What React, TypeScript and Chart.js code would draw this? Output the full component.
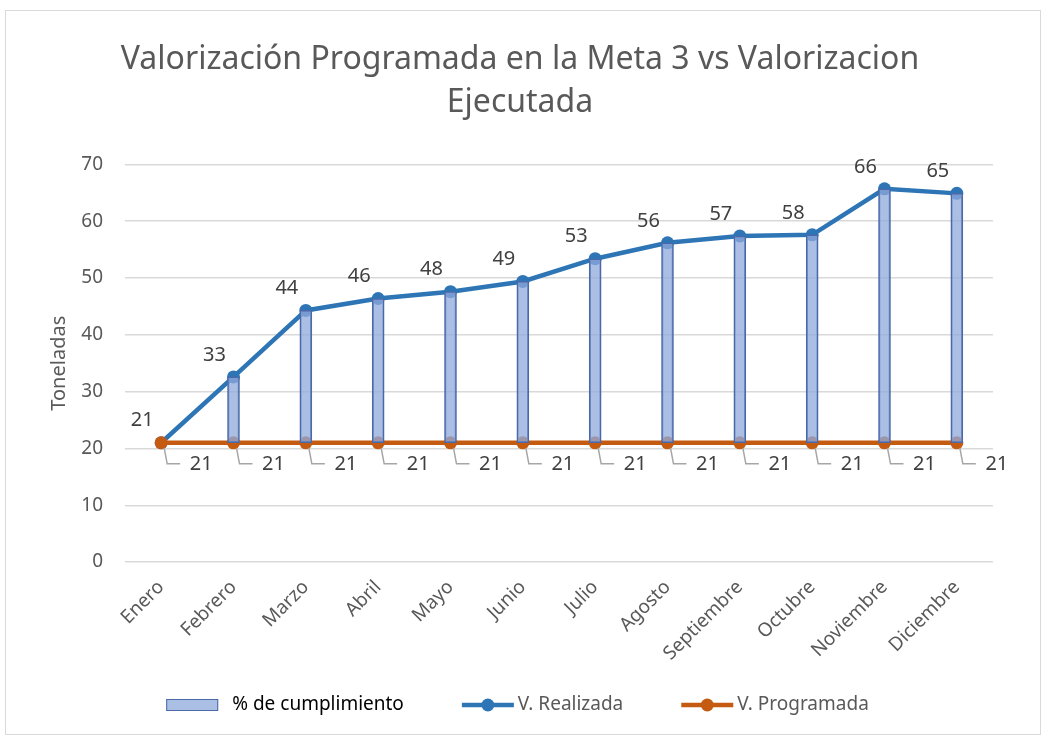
import React, { useEffect, useRef } from "react";
import { Chart, registerables } from "chart.js";

Chart.register(...registerables);

const months = ["Enero","Febrero","Marzo","Abril","Mayo","Junio","Julio","Agosto","Septiembre","Octubre","Noviembre","Diciembre"];
const realizada = [21, 32.6, 44.3, 46.4, 47.6, 49.4, 53.4, 56.2, 57.4, 57.6, 65.7, 64.9];
const programada = [21, 21, 21, 21, 21, 21, 21, 21, 21, 21, 21, 21];
const titleLines = ["Valorización Programada en la Meta 3 vs Valorizacion", "Ejecutada"];
const legendLabels = ["% de cumplimiento", "V. Realizada", "V. Programada"];

const FONT = "'Noto Sans', sans-serif";
const GRAY = "#595959";
const BLUE = "#2E75B6";
const ORANGE = "#C55A11";
const BAR_FILL = "rgba(143,170,220,0.75)";
const BAR_BORDER = "#4A69A8";

const frame = {
  id: "frame",
  beforeDraw(chart: any) {
    const ctx = chart.ctx;
    ctx.save();
    ctx.fillStyle = "#fff";
    ctx.fillRect(0, 0, chart.width, chart.height);
    ctx.strokeStyle = "#D9D9D9";
    ctx.lineWidth = 1;
    ctx.strokeRect(5.5, 10.5, chart.width - 8, chart.height - 13);
    ctx.restore();
  },
};

const labelsPlugin = {
  id: "valueLabels",
  afterDatasetsDraw(chart: any) {
    const ctx = chart.ctx;
    ctx.save();
    ctx.font = `20px ${FONT}`;
    ctx.fillStyle = "#404040";
    ctx.textAlign = "center";
    ctx.textBaseline = "middle";
    const m1 = chart.getDatasetMeta(1);
    m1.data.forEach((pt: any, i: number) => {
      ctx.fillText(String(Math.round(realizada[i])), pt.x - 19, pt.y - 22);
    });
    const m2 = chart.getDatasetMeta(2);
    m2.data.forEach((pt: any, i: number) => {
      ctx.strokeStyle = "#A6A6A6";
      ctx.lineWidth = 1.5;
      ctx.beginPath();
      ctx.moveTo(pt.x + 3, pt.y + 5);
      ctx.lineTo(pt.x + 6, pt.y + 21);
      ctx.lineTo(pt.x + 19, pt.y + 21);
      ctx.stroke();
      ctx.fillText(String(Math.round(programada[i])), pt.x + 40, pt.y + 22);
    });
    ctx.restore();
  },
};

const legendPlugin = {
  id: "customLegend",
  afterDraw(chart: any) {
    const ctx = chart.ctx;
    ctx.save();
    ctx.font = `19px ${FONT}`;
    ctx.textBaseline = "middle";
    const y = 705;
    const sw = 52;
    const gap = 14;
    const spacing = 58;
    const widths = legendLabels.map((t, k) => sw + (k === 0 ? gap : 4) + ctx.measureText(t).width);
    const total = widths.reduce((a, b) => a + b, 0) + spacing * 2;
    let x = (chart.width - total) / 2 - 4;
    ctx.fillStyle = BAR_FILL;
    ctx.strokeStyle = BAR_BORDER;
    ctx.lineWidth = 1;
    ctx.fillRect(x, y - 6, sw, 12);
    ctx.strokeRect(x + 0.5, y - 5.5, sw - 1, 11);
    ctx.fillStyle = "#000";
    ctx.fillText(legendLabels[0], x + sw + gap, y);
    x += widths[0] + spacing;
    [BLUE, ORANGE].forEach((c, k) => {
      ctx.strokeStyle = c;
      ctx.lineWidth = 4.5;
      ctx.beginPath();
      ctx.moveTo(x, y);
      ctx.lineTo(x + sw, y);
      ctx.stroke();
      ctx.fillStyle = c;
      ctx.beginPath();
      ctx.arc(x + sw / 2, y, 6.5, 0, Math.PI * 2);
      ctx.fill();
      ctx.fillStyle = GRAY;
      ctx.fillText(legendLabels[k + 1], x + sw + 4, y);
      x += widths[k + 1] + spacing;
    });
    ctx.restore();
  },
};

export default function App() {
  const ref = useRef<HTMLCanvasElement>(null);
  useEffect(() => {
    document.body.style.margin = "0";
    const chart = new Chart(ref.current!, {
      type: "bar",
      data: {
        labels: months,
        datasets: [
          {
            type: "bar",
            label: legendLabels[0],
            data: realizada.map((v, i) => [programada[i], v]) as any,
            backgroundColor: BAR_FILL,
            borderColor: BAR_BORDER,
            borderWidth: 1.5,
            borderSkipped: false,
            barThickness: 12,
            order: 0,
          },
          {
            type: "line",
            label: legendLabels[1],
            data: realizada,
            borderColor: BLUE,
            backgroundColor: BLUE,
            borderWidth: 4.5,
            pointRadius: 6.5,
            pointBorderWidth: 0,
            order: 2,
          },
          {
            type: "line",
            label: legendLabels[2],
            data: programada,
            borderColor: ORANGE,
            backgroundColor: ORANGE,
            borderWidth: 4.5,
            pointRadius: 6.5,
            pointBorderWidth: 0,
            order: 1,
          },
        ] as any,
      },
      options: {
        animation: false,
        responsive: false,
        layout: { padding: { left: 47, right: 50, top: 0, bottom: 66 } },
        plugins: {
          legend: { display: false },
          tooltip: { enabled: false },
          title: {
            display: true,
            text: titleLines,
            color: GRAY,
            font: { family: FONT, size: 32, weight: "normal", lineHeight: 1.35 },
            padding: { top: 38, bottom: 40 },
          },
        },
        scales: {
          x: {
            grid: { display: false },
            border: { display: false },
            ticks: {
              color: GRAY,
              font: { family: FONT, size: 19 },
              maxRotation: 45,
              minRotation: 45,
              padding: 6,
            },
          },
          y: {
            min: 0,
            max: 70,
            afterFit(scale: any) {
              scale.width = 78;
            },
            ticks: { stepSize: 10, color: GRAY, font: { family: FONT, size: 19 }, padding: 22 },
            grid: { color: "#D9D9D9", lineWidth: 1.5, drawTicks: false },
            border: { display: false },
            title: {
              display: true,
              text: "Toneladas",
              color: GRAY,
              font: { family: FONT, size: 20, weight: "normal" },
              padding: { top: 0, bottom: 4 },
            },
          },
        },
      },
      plugins: [frame, labelsPlugin, legendPlugin],
    });
    return () => chart.destroy();
  }, []);
  return (
    <div style={{ width: 1043, height: 737 }}>
      <canvas ref={ref} width={1043} height={737} />
    </div>
  );
}
